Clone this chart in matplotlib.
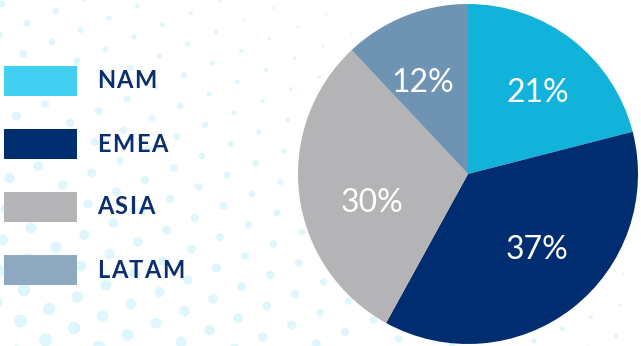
import numpy as np
import matplotlib
matplotlib.use("Agg")
import matplotlib.pyplot as plt
from matplotlib.patches import Rectangle

# ---- data ----
regions = ["NAM", "EMEA", "ASIA", "LATAM"]
shares = [21, 37, 30, 12]
pie_colors = ["#12B3DB", "#002D6F", "#B4B4B6", "#6F93B3"]
legend_colors = ["#41CFF2", "#002D6F", "#B5B5B7", "#8FA9C1"]

# label placement tweaks (degrees of angular shift, radial fraction)
label_angle_shift = [-3.0, 4.4, 9.6, 4.7]
label_dist = [0.63, 0.60, 0.59, 0.60]

W, H = 641, 346
fig = plt.figure(figsize=(W / 100, H / 100), dpi=100)
ax = fig.add_axes([0, 0, 1, 1])
FONT = ["Lato", "DejaVu Sans"]

def Y(ypx):
    return H - ypx

# ---- decorative dotted background ----
a = np.array([25.0, 19.0])
b = np.array([-3.5, 31.0])
pts = []
for i in range(-30, 40):
    for j in range(-10, 20):
        p = i * a + j * b + np.array([2.0, 4.0])
        if -10 <= p[0] <= W + 10 and -10 <= p[1] <= H + 10:
            pts.append(p)
pts = np.array(pts)
rad = 7.0 - 0.008 * pts[:, 0] - 0.0105 * (H - pts[:, 1])
keep = rad > 0.9
pts, rad = pts[keep], rad[keep]
ax.scatter(pts[:, 0], Y(pts[:, 1]), s=(2 * rad * 0.72) ** 2, color="#DFF6FC",
           linewidths=0, zorder=0)

# ---- pie ----
cx, cy, R = 468, Y(174), 170
wedges, texts, autotexts = ax.pie(
    shares, colors=pie_colors, startangle=90, counterclock=False,
    center=(cx, cy), radius=R, autopct="%d%%", pctdistance=0.6,
    wedgeprops=dict(linewidth=0), textprops=dict(color="white", fontsize=23, family=FONT))
for w, t, sh, d in zip(wedges, autotexts, label_angle_shift, label_dist):
    w.set_zorder(2)
    t.set_zorder(3)
    mid = np.deg2rad((w.theta1 + w.theta2) / 2 + sh)
    t.set_position((cx + d * R * np.cos(mid), cy + d * R * np.sin(mid)))

# ---- legend ----
fig.canvas.draw()
renderer = fig.canvas.get_renderer()
y_centers = [81, 144, 207, 270]
for name, col, yc in zip(regions, legend_colors, y_centers):
    ax.add_patch(Rectangle((4, Y(yc + 15)), 73, 30, facecolor=col, edgecolor="none", zorder=2))
    x = 97
    for ch in name:
        t = ax.text(x, Y(yc), ch, fontsize=17, color="#0B2E6E", family=FONT,
                    weight="bold", ha="left", va="center", zorder=3)
        bb = t.get_window_extent(renderer)
        x += bb.width + 1.5

ax.set_xlim(0, W)
ax.set_ylim(0, H)
ax.set_aspect("auto")
ax.axis("off")
fig.savefig("out.png", dpi=100, facecolor="white")
